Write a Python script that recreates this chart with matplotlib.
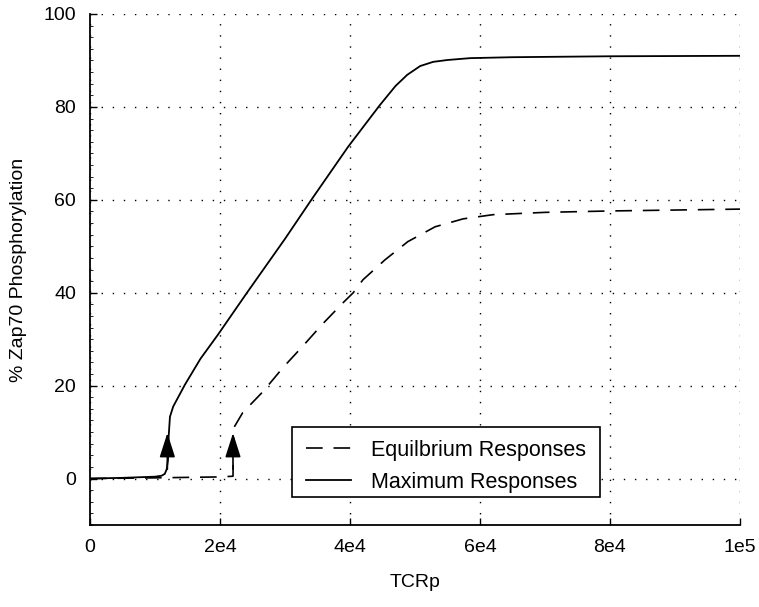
import matplotlib

matplotlib.use("Agg")
import matplotlib.pyplot as plt
from matplotlib.patches import Rectangle
from matplotlib.ticker import MultipleLocator

# maximum response curve (solid)
max_x = [0, 5000, 10000, 11000, 11500, 11800, 12000, 12100, 12300, 12800,
         14600, 17000, 19700, 24150, 30000, 34150, 39700, 44600, 47000,
         48800, 50800, 52800, 55000, 58500, 65000, 80000, 100000]
max_y = [0, 0.15, 0.4, 0.6, 1.0, 2.0, 4.0, 9.0, 13.3, 15.5,
         20.2, 25.8, 31.0, 40.0, 51.6, 60.2, 71.4, 80.4, 84.5,
         86.9, 88.8, 89.7, 90.1, 90.5, 90.7, 90.9, 91.0]

# equilibrium response curve (dashed)
eq_x = [0, 10000, 20000, 22000, 22050, 22150, 23500, 26600, 29700, 32800,
        35800, 38900, 40500, 42000, 45400, 48900, 53100, 57400, 62000,
        70000, 80000, 100000]
eq_y = [0, 0.15, 0.35, 0.5, 5.0, 11.0, 14.2, 18.7, 23.9, 28.6,
        33.3, 37.8, 40.0, 42.8, 47.1, 51.0, 54.2, 55.9, 56.8,
        57.3, 57.6, 58.0]

# threshold arrows (x position, start y, tip y)
arrow_x = [11900, 22000]
arrow_y0 = [2, 2]
arrow_y1 = [9.8, 9.8]

x_ticks = [0, 20000, 40000, 60000, 80000, 100000]
x_labels = ["0", "2e4", "4e4", "6e4", "8e4", "1e5"]
y_ticks = [0, 20, 40, 60, 80, 100]

plt.rcParams["font.family"] = ["Liberation Sans", "DejaVu Sans"]

fig = plt.figure(figsize=(7.59, 6.07), dpi=100)
ax = fig.add_axes([90 / 759, 82 / 607, 650 / 759, 511 / 607])

ax.plot(eq_x, eq_y, color="black", lw=1.2, dashes=(10, 6.5),
        label="Equilbrium Responses")
ax.plot(max_x, max_y, color="black", lw=1.3, label="Maximum Responses")

for x, y0, y1 in zip(arrow_x, arrow_y0, arrow_y1):
    ax.annotate(
        "",
        xy=(x, y1),
        xytext=(x, y0),
        arrowprops=dict(arrowstyle="-|>,head_length=1.0,head_width=0.32",
                        mutation_scale=15, color="black", lw=1.2,
                        shrinkA=0, shrinkB=0),
    )

ax.set_xlim(0, 100000)
ax.set_ylim(-10, 100)
ax.set_xticks(x_ticks)
ax.set_xticklabels(x_labels)
ax.set_yticks(y_ticks)
ax.yaxis.set_minor_locator(MultipleLocator(2.5))

ax.grid(True, color="black", lw=1.0, linestyle=(0, (1, 7)))
for side in ("top", "right"):
    ax.spines[side].set_visible(False)
for side in ("left", "bottom"):
    ax.spines[side].set_linewidth(1.3)

ax.tick_params(axis="both", which="major", direction="in", length=5,
               width=1.0, labelsize=14, pad=10)
ax.tick_params(axis="y", which="minor", direction="in", length=2, width=0.6)

ax.set_xlabel("TCRp", fontsize=14, labelpad=13)
ax.set_ylabel("% Zap70 Phosphorylation", fontsize=14, labelpad=12)

# legend frame drawn separately so the padding can match the original box
frame = Rectangle((0.3108, 0.0548), 0.4738, 0.137, transform=ax.transAxes,
                  facecolor="white", edgecolor="black", lw=1.2, zorder=4)
ax.add_patch(frame)
leg = ax.legend(
    loc="center",
    bbox_to_anchor=(0.5477, 0.115),
    borderaxespad=0,
    borderpad=0,
    fontsize=15.5,
    frameon=False,
    handlelength=2.05,
    handletextpad=0.93,
    labelspacing=0.49,
)
leg.set_zorder(5)

fig.savefig("out.png", dpi=100, facecolor="white")
